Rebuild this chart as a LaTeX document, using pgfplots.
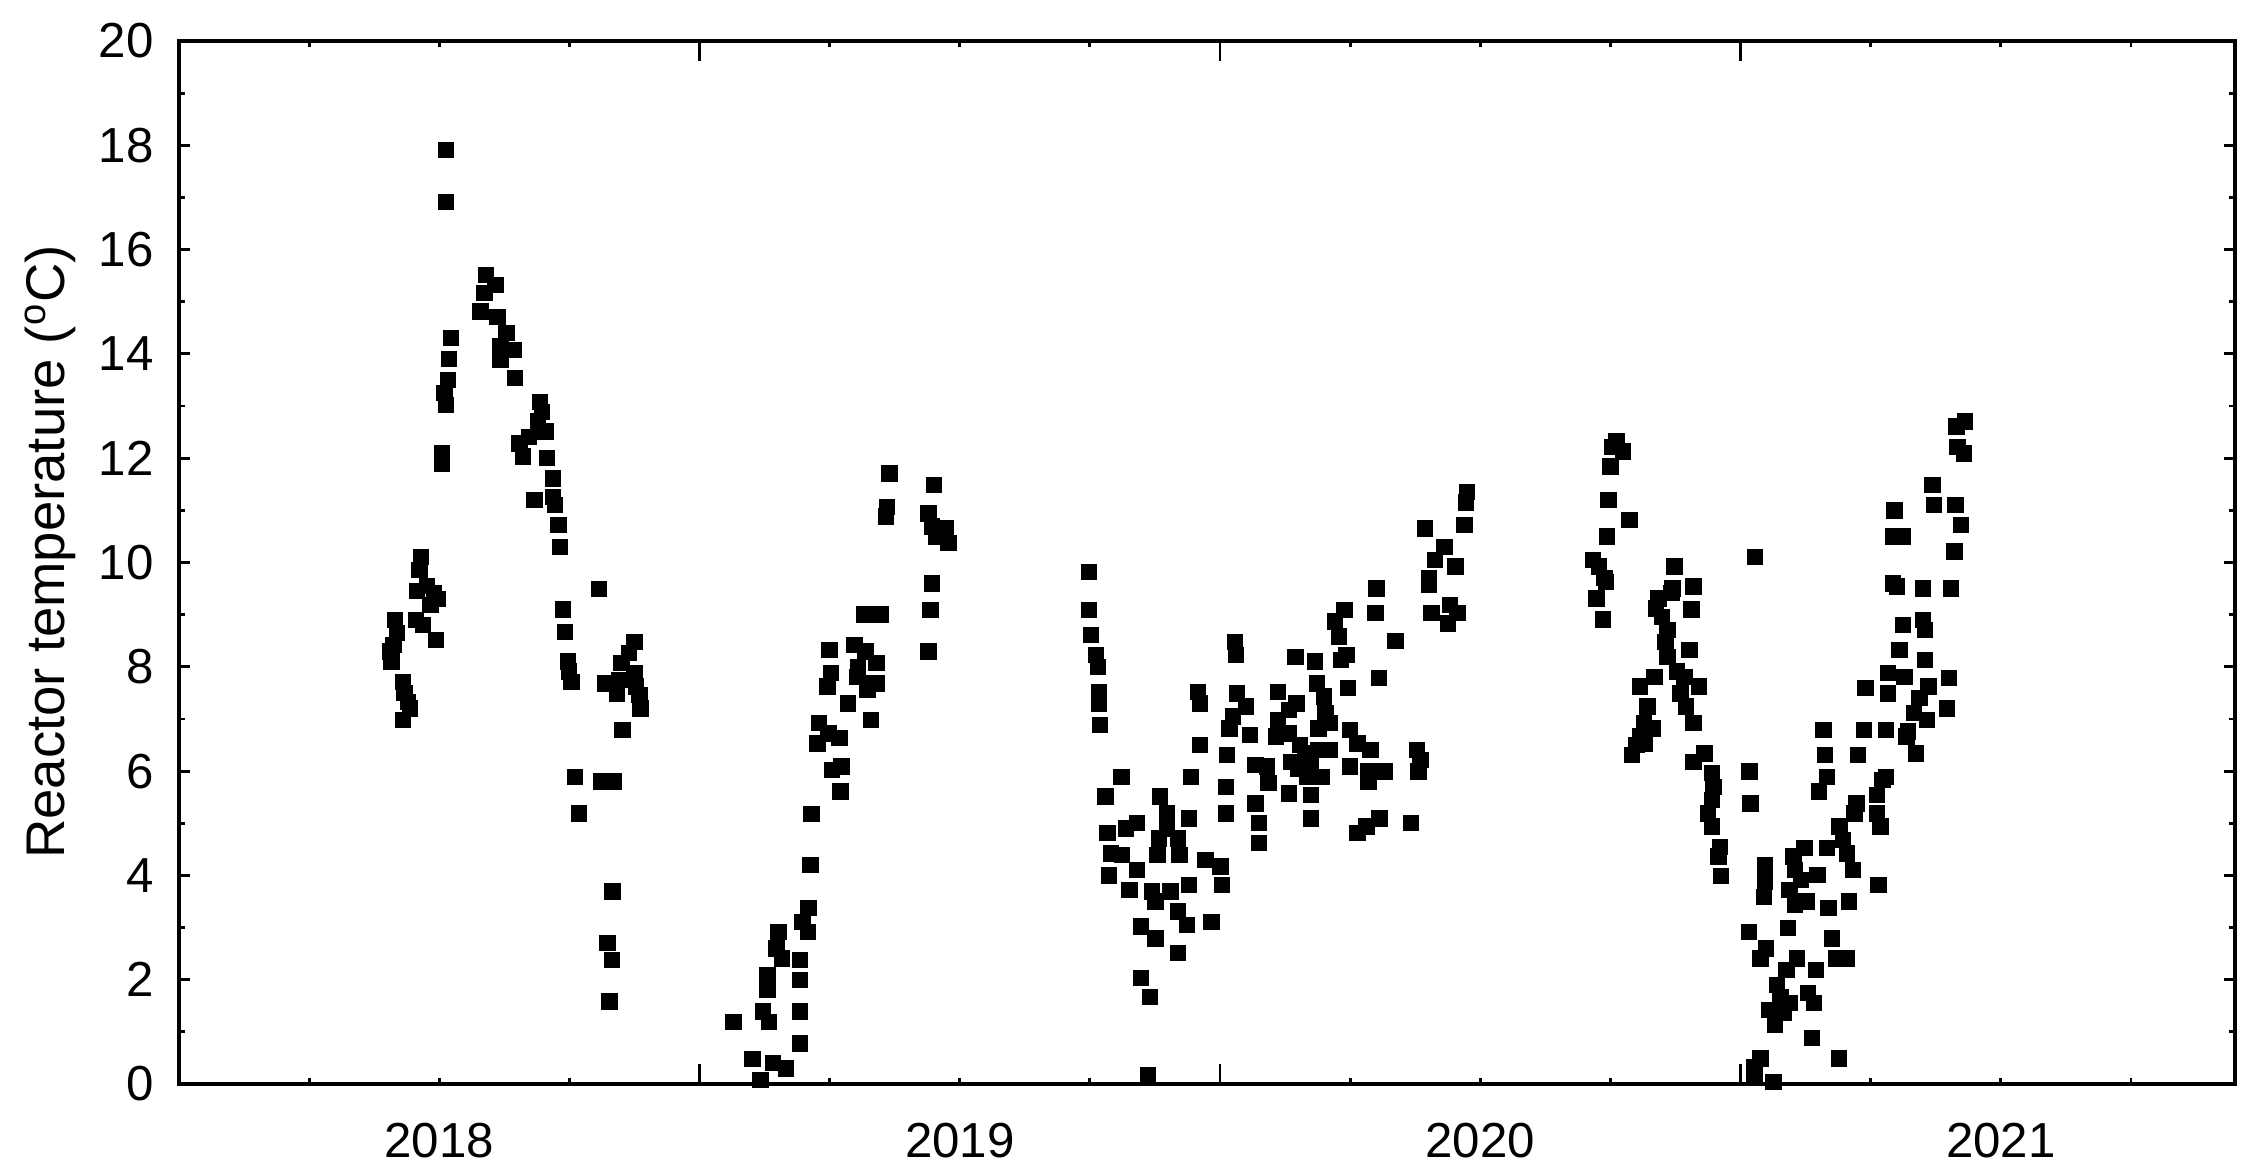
\documentclass[border=0pt]{standalone}
\usepackage{fontspec}
\setmainfont{Liberation Sans}
\usepackage{pgfplots}
\usepackage{pgfplotstable}
\pgfplotsset{compat=1.18}

% temperature readings, x in decimal years
\pgfplotstableread{
x y
2018.513 17.91
2018.513 16.91
2018.522 14.31
2018.519 13.90
2018.517 13.50
2018.510 13.25
2018.513 13.02
2018.505 12.10
2018.505 11.90
2018.590 15.51
2018.608 15.32
2018.587 15.17
2018.579 14.81
2018.612 14.71
2018.629 14.40
2018.618 14.14
2018.643 14.07
2018.618 13.88
2018.645 13.54
2018.693 13.08
2018.697 12.89
2018.690 12.70
2018.704 12.51
2018.672 12.41
2018.654 12.28
2018.661 12.03
2018.707 12.00
2018.718 11.61
2018.683 11.20
2018.718 11.26
2018.722 11.10
2018.729 10.72
2018.732 10.30
2018.465 10.11
2018.462 9.86
2018.476 9.55
2018.490 9.41
2018.457 9.45
2018.497 9.30
2018.483 9.18
2018.415 8.90
2018.455 8.90
2018.469 8.80
2018.494 8.51
2018.419 8.65
2018.412 8.42
2018.405 8.29
2018.408 8.10
2018.430 7.71
2018.433 7.50
2018.440 7.33
2018.444 7.20
2018.430 6.98
2018.807 9.49
2018.738 9.10
2018.742 8.67
2018.747 8.10
2018.749 7.91
2018.754 7.71
2018.761 5.89
2018.768 5.19
2018.875 8.48
2018.864 8.26
2018.850 8.07
2018.875 7.88
2018.818 7.68
2018.846 7.75
2018.878 7.62
2018.842 7.49
2018.885 7.46
2018.887 7.20
2018.852 6.79
2018.811 5.80
2018.835 5.80
2018.833 3.69
2018.823 2.70
2018.832 2.38
2018.827 1.58
2019.065 1.19
2019.102 0.48
2019.117 0.08
2019.141 0.40
2019.166 0.30
2019.122 1.39
2019.134 1.19
2019.131 2.09
2019.131 1.80
2019.152 2.92
2019.148 2.60
2019.159 2.41
2019.193 2.38
2019.193 1.99
2019.193 1.39
2019.193 0.78
2019.209 3.37
2019.198 3.11
2019.208 2.92
2019.213 4.20
2019.215 5.18
2019.230 6.92
2019.227 6.53
2019.248 6.72
2019.269 6.63
2019.255 6.02
2019.273 6.09
2019.271 5.61
2019.250 8.32
2019.253 7.88
2019.246 7.62
2019.285 7.30
2019.298 8.42
2019.319 8.29
2019.305 8.00
2019.340 8.07
2019.302 7.81
2019.323 7.68
2019.340 7.68
2019.323 7.56
2019.330 6.98
2019.316 9.00
2019.348 9.00
2019.444 9.09
2019.440 8.29
2019.447 9.60
2019.365 11.71
2019.360 11.07
2019.358 10.88
2019.450 11.49
2019.440 10.94
2019.447 10.69
2019.454 10.50
2019.474 10.65
2019.478 10.37
2019.748 9.82
2019.748 9.09
2019.752 8.61
2019.762 8.23
2019.766 8.00
2019.768 7.52
2019.768 7.30
2019.769 6.88
2019.811 5.89
2019.780 5.51
2019.784 4.81
2019.819 4.90
2019.840 5.00
2019.791 4.42
2019.812 4.39
2019.787 4.00
2019.840 4.10
2019.826 3.72
2019.885 5.51
2019.898 5.19
2019.898 4.90
2019.883 4.71
2019.919 4.71
2019.940 5.09
2019.880 4.39
2019.922 4.39
2019.940 3.82
2019.869 3.69
2019.905 3.69
2019.876 3.50
2019.919 3.31
2019.937 3.05
2019.848 3.02
2019.876 2.79
2019.919 2.51
2019.848 2.03
2019.865 1.67
2019.862 0.17
2019.972 4.30
2020.001 4.17
2020.004 3.82
2019.984 3.11
2019.944 5.89
2019.962 6.50
2019.958 7.52
2019.962 7.30
2020.013 6.31
2020.011 5.70
2020.011 5.19
2020.029 8.48
2020.031 8.23
2020.033 7.49
2020.050 7.24
2020.025 7.05
2020.018 6.82
2020.058 6.69
2020.068 6.12
2020.090 6.09
2020.093 5.77
2020.068 5.38
2020.075 5.00
2020.075 4.62
2020.111 7.52
2020.147 7.30
2020.132 7.17
2020.111 6.98
2020.107 6.66
2020.132 6.72
2020.154 6.50
2020.136 6.18
2020.132 5.57
2020.150 6.05
2020.145 8.19
2020.182 8.10
2020.186 7.68
2020.200 7.43
2020.203 7.11
2020.189 6.82
2020.211 6.92
2020.164 6.34
2020.175 6.15
2020.189 6.40
2020.211 6.40
2020.168 5.89
2020.196 5.89
2020.175 5.54
2020.175 5.09
2020.239 9.09
2020.221 8.87
2020.228 8.58
2020.232 8.13
2020.243 8.23
2020.246 7.59
2020.250 6.79
2020.264 6.53
2020.289 6.40
2020.250 6.09
2020.285 5.99
2020.285 5.80
2020.317 5.99
2020.306 5.09
2020.281 4.94
2020.264 4.81
2020.301 9.50
2020.299 9.03
2020.337 8.50
2020.305 7.78
2020.378 6.40
2020.385 6.21
2020.381 5.99
2020.367 5.00
2020.402 9.57
2020.406 9.03
2020.442 9.18
2020.456 9.03
2020.438 8.83
2020.474 11.35
2020.472 11.15
2020.394 10.65
2020.470 10.72
2020.431 10.30
2020.413 10.05
2020.452 9.92
2020.402 9.70
2020.762 12.32
2020.753 12.22
2020.774 12.13
2020.750 11.84
2020.746 11.20
2020.787 10.82
2020.744 10.50
2020.717 10.05
2020.728 9.92
2020.739 9.70
2020.741 9.63
2020.723 9.31
2020.736 8.91
2020.873 9.92
2020.869 9.50
2020.910 9.54
2021.028 10.10
2020.867 9.41
2020.842 9.31
2020.906 9.10
2020.838 9.12
2020.849 8.96
2020.860 8.71
2020.856 8.48
2020.860 8.19
2020.902 8.32
2020.878 7.91
2020.835 7.81
2020.807 7.62
2020.892 7.81
2020.920 7.62
2020.821 7.24
2020.885 7.49
2020.895 7.24
2020.910 6.92
2020.814 6.92
2020.831 6.82
2020.807 6.66
2020.800 6.50
2020.792 6.31
2020.817 6.53
2020.931 6.34
2020.910 6.18
2020.945 5.96
2020.948 5.70
2020.945 5.45
2020.938 5.19
2020.945 4.94
2020.960 4.55
2020.958 4.36
2020.962 3.99
2021.017 5.99
2021.019 5.38
2021.047 4.20
2021.047 3.88
2021.045 3.59
2021.123 4.52
2021.102 4.36
2021.105 4.10
2021.116 3.91
2021.094 3.72
2021.105 3.43
2021.127 3.50
2021.148 4.01
2021.166 4.52
2021.169 3.37
2021.208 3.50
2021.016 2.92
2021.091 2.99
2021.049 2.60
2021.038 2.41
2021.109 2.41
2021.088 2.19
2021.145 2.19
2021.176 2.79
2021.184 2.41
2021.205 2.41
2021.070 1.90
2021.077 1.67
2021.094 1.55
2021.056 1.42
2021.084 1.36
2021.066 1.13
2021.130 1.74
2021.141 1.55
2021.137 0.88
2021.189 0.49
2021.038 0.49
2021.027 0.33
2021.027 0.14
2021.063 0.04
2021.190 4.94
2021.197 4.68
2021.205 4.42
2021.216 4.10
2021.219 5.19
2021.223 5.38
2021.262 5.54
2021.262 5.19
2021.269 4.94
2021.265 3.82
2021.273 5.83
2021.280 5.89
2021.159 6.79
2021.162 6.31
2021.166 5.89
2021.151 5.61
2021.237 6.79
2021.226 6.31
2021.280 6.79
2021.240 7.59
2021.283 7.49
2021.283 7.88
2021.315 7.81
2021.305 8.32
2021.312 8.80
2021.301 9.54
2021.351 9.50
2021.404 9.50
2021.351 8.90
2021.354 8.71
2021.354 8.13
2021.400 7.78
2021.361 7.62
2021.344 7.40
2021.397 7.20
2021.333 7.11
2021.358 6.98
2021.322 6.76
2021.319 6.66
2021.337 6.34
2021.431 12.70
2021.415 12.61
2021.417 12.22
2021.429 12.09
2021.369 11.49
2021.372 11.10
2021.413 11.10
2021.424 10.72
2021.296 11.00
2021.293 10.50
2021.312 10.50
2021.411 10.21
2021.293 9.60
}\tempdata

\begin{document}
\begin{tikzpicture}
\begin{axis}[
    scale only axis,
    width=205.6mm,
    height=104.3mm,
    xmin=2018, xmax=2021.95,
    ymin=0, ymax=20,
    axis line style={line width=0.9pt},
    every tick/.style={black, line width=0.8pt},
    tick align=inside,
    tick pos=both,
    major tick length=1.1mm,
    minor tick length=0.6mm,
    xtick={2018.5,2019.5,2020.5,2021.5},
    xticklabels={2018,2019,2020,2021},
    major x tick style={draw=none},
    minor xtick={2018.25,2018.5,2018.75,2019.25,2019.5,2019.75,2020.25,2020.5,2020.75,2021.25,2021.5,2021.75},
    extra x ticks={2019,2020,2021},
    extra x tick labels={},
    extra x tick style={major tick length=2mm, major x tick style={draw=black}},
    ytick={0,2,...,20},
    minor y tick num=1,
    /pgf/number format/assume math mode=true,
    tick label style={font=\fontsize{14}{16}\selectfont},
    xticklabel style={yshift=-2.7mm},
    yticklabel style={xshift=-1.3mm},
    ylabel={Reactor temperature (\textsuperscript{o}C)},
    ylabel style={font=\fontsize{15.5}{18}\selectfont, at={(axis description cs:-0.0627,0.51)}, anchor=center},
]
\addplot[only marks, mark=square*, mark size=0.75mm, mark options={fill=black, draw=none}] table {\tempdata};
\end{axis}
\pgfresetboundingbox
\path[use as bounding box] (-17.9mm,-8.7mm) rectangle (208.4mm,108.4mm);
\end{tikzpicture}
\end{document}
